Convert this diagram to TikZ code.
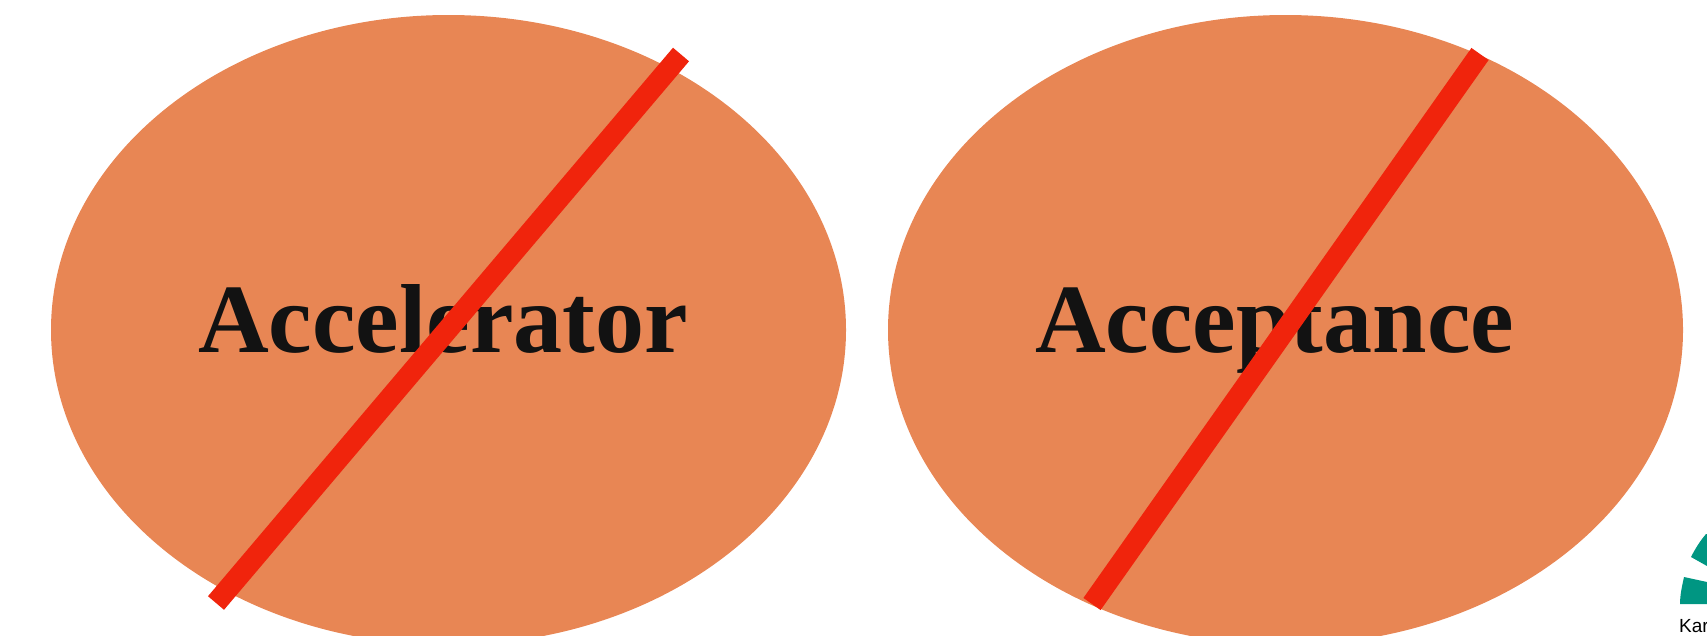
\documentclass[tikz,border=0pt]{standalone}
\usepackage{fontspec}
\setmainfont{Liberation Serif}
\setsansfont{Liberation Sans}
\usetikzlibrary{shapes.geometric}
\definecolor{blob}{HTML}{E88654}
\definecolor{strike}{HTML}{F0240C}
\definecolor{logogreen}{HTML}{009682}
\definecolor{wordink}{HTML}{121212}

\begin{document}
\begin{tikzpicture}[
  x=1pt, y=-1pt,
  blobshape/.style={
    ellipse,
    fill=blob,
    inner sep=0pt,
    minimum width=795pt,
    minimum height=630pt,
  },
  word/.style={
    anchor=base west,
    inner sep=0pt,
    text=wordink,
    font=\fontsize{98}{98}\selectfont\bfseries,
  },
  crossout/.style={draw=strike, line width=21pt},
]
\useasboundingbox (0,0) rectangle (1707,635);

% ---- the two ellipses, running off the bottom edge --------------------------
\node[blobshape] (accel) at (448.5,330) {};
\node[blobshape] (accept) at (1285.5,330) {};

\node[word] (accelword) at (198,352) {Accelerator};
\node[word] (acceptword) at (1035,352) {Acceptance};

% ---- the strokes across them ------------------------------------------------
\coordinate (accelhi) at (681,54.5);
\coordinate (accello) at (216,603);
\coordinate (accepthi) at (1480,54);
\coordinate (acceptlo) at (1092,604);
\draw[crossout] (accello) -- (accelhi);
\draw[crossout] (acceptlo) -- (accepthi);

% ---- corner logo, cut off by the page ---------------------------------------
\fill[logogreen] (1680,604) .. controls (1680,595) and (1682,586) .. (1684,577)
  -- (1707,582) -- (1707,604) -- cycle;
\fill[logogreen] (1691,557) .. controls (1695,549) and (1700,541) .. (1706,534)
  -- (1707,534) -- (1707,566) -- cycle;
\node[anchor=base west, inner sep=0pt, font=\sffamily\fontsize{19}{19}\selectfont] (logoword) at (1679,632) {Kar};
\end{tikzpicture}
\end{document}
